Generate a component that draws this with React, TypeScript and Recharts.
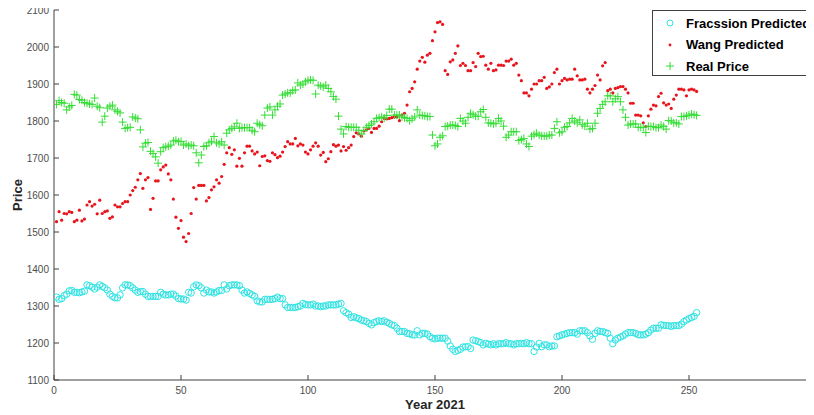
import {
  ScatterChart,
  Scatter,
  XAxis,
  YAxis,
  Legend,
  Label,
} from "recharts";

// x positions are trading days 1..253
const realPrice = [
  1845, 1855, 1850, 1848, 1830, 1838, 1842, 1872, 1870, 1858,
  1856, 1850, 1848, 1846, 1845, 1862, 1840, 1836, 1797, 1813,
  1835, 1840, 1843, 1830, 1826, 1822, 1797, 1780, 1782, 1783,
  1811, 1808, 1806, 1776, 1730, 1740, 1742, 1718, 1712, 1703,
  1686, 1717, 1728, 1730, 1732, 1735, 1746, 1748, 1744, 1745,
  1735, 1738, 1733, 1735, 1733, 1714, 1687, 1708, 1731, 1733,
  1741, 1745, 1758, 1741, 1738, 1744, 1735, 1767, 1776, 1780,
  1784, 1794, 1780, 1782, 1782, 1782, 1782, 1775, 1771, 1794,
  1790, 1787, 1816, 1835, 1838, 1816, 1830, 1840, 1846, 1870,
  1873, 1876, 1876, 1882, 1884, 1903, 1897, 1900, 1906, 1910,
  1911, 1910, 1873, 1897, 1895, 1892, 1897, 1888, 1879, 1866,
  1859, 1813, 1778, 1765, 1785, 1783, 1783, 1783, 1783, 1775,
  1765, 1774, 1783, 1788, 1792, 1798, 1807, 1809, 1811, 1808,
  1815, 1832, 1832, 1816, 1816, 1816, 1811, 1809, 1807, 1801,
  1806, 1811, 1830, 1816, 1815, 1814, 1812, 1812, 1762, 1733,
  1738, 1756, 1760, 1785, 1786, 1789, 1789, 1788, 1785, 1807,
  1800, 1794, 1810, 1821, 1817, 1813, 1813, 1825, 1831, 1810,
  1795, 1794, 1792, 1794, 1807, 1800, 1786, 1756, 1762, 1771,
  1771, 1771, 1747, 1750, 1753, 1738, 1731, 1759, 1763, 1767,
  1762, 1760, 1759, 1759, 1762, 1762, 1780, 1798, 1768, 1771,
  1783, 1785, 1795, 1807, 1800, 1795, 1803, 1790, 1786, 1794,
  1778, 1780, 1794, 1821, 1834, 1845, 1852, 1868, 1868, 1852,
  1860, 1866, 1852, 1830, 1810, 1789, 1792, 1792, 1792, 1783,
  1783, 1782, 1769, 1786, 1785, 1785, 1782, 1782, 1789, 1785,
  1778, 1801, 1800, 1795, 1795, 1792, 1812, 1812, 1814, 1816,
  1819, 1817, 1815,
];

const wangPredicted = [
  1528, 1555, 1532, 1550, 1549, 1555, 1553, 1528, 1532, 1559,
  1530, 1535, 1573, 1582, 1570, 1575, 1549, 1586, 1550, 1555,
  1557, 1537, 1541, 1573, 1568, 1568, 1577, 1582, 1582, 1600,
  1612, 1621, 1641, 1658, 1618, 1641, 1647, 1561, 1591, 1638,
  1638, 1668, 1676, 1681, 1657, 1641, 1589, 1540, 1510, 1531,
  1486, 1474, 1496, 1550, 1620, 1589, 1626, 1626, 1626, 1584,
  1593, 1614, 1622, 1641, 1632, 1650, 1683, 1714, 1728, 1710,
  1722, 1678, 1699, 1678, 1714, 1732, 1732, 1719, 1711, 1716,
  1679, 1704, 1706, 1693, 1691, 1714, 1709, 1701, 1705, 1716,
  1731, 1744, 1738, 1738, 1753, 1733, 1738, 1735, 1716, 1711,
  1722, 1732, 1741, 1732, 1708, 1715, 1690, 1698, 1717, 1736,
  1732, 1735, 1719, 1731, 1721, 1728, 1735, 1758, 1768, 1765,
  1759, 1773, 1776, 1780, 1769, 1780, 1780, 1786, 1798, 1807,
  1806, 1807, 1809, 1811, 1811, 1801, 1816, 1821, 1843, 1879,
  1888, 1906, 1940, 1962, 1972, 1959, 1978, 1983, 2017, 2041,
  2066, 2068, 2061, 1936, 1926, 1960, 1965, 1983, 2003, 1950,
  1956, 1950, 1936, 1936, 1958, 1947, 1983, 1974, 1975, 1951,
  1940, 1956, 1936, 1938, 1951, 1951, 1950, 1962, 1962, 1967,
  1951, 1956, 1924, 1909, 1876, 1876, 1868, 1886, 1900, 1900,
  1909, 1909, 1918, 1888, 1892, 1900, 1931, 1940, 1900, 1909,
  1915, 1911, 1913, 1913, 1940, 1922, 1911, 1911, 1913, 1886,
  1876, 1886, 1896, 1924, 1911, 1949, 1958, 1882, 1886, 1876,
  1888, 1890, 1893, 1893, 1886, 1876, 1848, 1848, 1816, 1816,
  1814, 1795, 1785, 1814, 1832, 1843, 1841, 1866, 1875, 1849,
  1843, 1846, 1834, 1859, 1870, 1886, 1886, 1884, 1868, 1884,
  1886, 1884, 1880,
];

const fracssionPredicted = [
  1324, 1318, 1320, 1328, 1332, 1341, 1342, 1337, 1337, 1336,
  1338, 1340, 1357, 1355, 1351, 1346, 1351, 1357, 1353, 1349,
  1343, 1332, 1326, 1322, 1322, 1330, 1349, 1357, 1357, 1355,
  1349, 1343, 1337, 1339, 1339, 1332, 1326, 1326, 1326, 1326,
  1326, 1337, 1332, 1330, 1330, 1332, 1332, 1327, 1320, 1319,
  1319, 1316, 1337, 1335, 1352, 1357, 1355, 1349, 1335, 1343,
  1338, 1338, 1335, 1338, 1342, 1342, 1357, 1346, 1355, 1357,
  1357, 1357, 1355, 1343, 1335, 1338, 1334, 1330, 1326, 1314,
  1311, 1311, 1318, 1318, 1318, 1318, 1320, 1324, 1320, 1320,
  1303, 1296, 1296, 1296, 1296, 1298, 1300, 1307, 1304, 1303,
  1303, 1305, 1300, 1300, 1298, 1300, 1300, 1303, 1303, 1303,
  1303, 1305, 1307, 1287, 1282, 1278, 1269, 1271, 1268, 1266,
  1262, 1260, 1258, 1253, 1249, 1255, 1258, 1260, 1258, 1260,
  1256, 1253, 1249, 1247, 1240, 1231, 1231, 1231, 1226, 1225,
  1222, 1222, 1233, 1222, 1226, 1226, 1224, 1217, 1213, 1211,
  1213, 1213, 1213, 1213, 1205, 1192, 1183, 1177, 1180, 1183,
  1189, 1190, 1190, 1185, 1208, 1206, 1204, 1201, 1195, 1199,
  1197, 1195, 1198, 1195, 1198, 1198, 1198, 1201, 1198, 1198,
  1195, 1198, 1198, 1199, 1198, 1201, 1198, 1198, 1177, 1189,
  1199, 1190, 1195, 1195, 1190, 1192, 1192, 1217, 1219, 1222,
  1224, 1226, 1228, 1228, 1228, 1224, 1233, 1233, 1233, 1228,
  1219, 1210, 1226, 1233, 1231, 1231, 1228, 1226, 1213, 1198,
  1208, 1213, 1216, 1219, 1224, 1228, 1228, 1228, 1226, 1222,
  1222, 1222, 1224, 1228, 1235, 1240, 1240, 1240, 1249, 1248,
  1247, 1247, 1245, 1247, 1247, 1247, 1251, 1258, 1262, 1266,
  1269, 1272, 1282,
];

const xTicks = [0, 50, 100, 150, 200, 250, 300];
const yTicks = [1100, 1200, 1300, 1400, 1500, 1600, 1700, 1800, 1900, 2000, 2100];

const toPoints = (vals: number[]) => vals.map((y, i) => ({ x: i + 1, y }));

const CYAN = "#2fe3e3";
const RED = "#e8141b";
const GREEN = "#33dd33";
const AXIS = "#404040";

const Ring = (p: any) => (
  <circle cx={p.cx} cy={p.cy} r={3.2} fill="none" stroke={CYAN} strokeWidth={1} />
);
const Dot = (p: any) => <circle cx={p.cx} cy={p.cy} r={1.6} fill={RED} />;
const Plus = (p: any) => (
  <path
    d={`M${p.cx - 4},${p.cy}H${p.cx + 4}M${p.cx},${p.cy - 4}V${p.cy + 4}`}
    stroke={GREEN}
    strokeWidth={1}
    fill="none"
  />
);

const tickStyle = { fontSize: 10, fill: "#4d4d4d", fontFamily: "Liberation Sans, Arial, sans-serif" };

const LegendBox = () => (
  <div
    style={{
      width: 200,
      height: 64,
      background: "#fff",
      border: `1px solid ${AXIS}`,
      fontFamily: "Liberation Sans, Arial, sans-serif",
      fontWeight: "bold",
      fontSize: 13,
      color: "#000",
      position: "relative",
    }}
  >
    {[
      { name: "Fracssion Predicted", mark: "ring" },
      { name: "Wang Predicted", mark: "dot" },
      { name: "Real Price", mark: "plus" },
    ].map((e, i) => (
      <div
        key={e.name}
        style={{ position: "absolute", left: 0, top: 4 + i * 21.5, height: 16, display: "flex", alignItems: "center" }}
      >
        <svg width={30} height={16}>
          {e.mark === "ring" && <circle cx={17} cy={8} r={3} fill="none" stroke={CYAN} />}
          {e.mark === "dot" && <circle cx={17} cy={8} r={1.4} fill={RED} />}
          {e.mark === "plus" && <path d="M13,8H21M17,4V12" stroke={GREEN} />}
        </svg>
        <span style={{ marginLeft: 3, whiteSpace: "nowrap" }}>{e.name}</span>
      </div>
    ))}
  </div>
);

export default function App() {
  return (
    <div
      style={{
        position: "relative",
        width: 814,
        height: 415,
        overflow: "hidden",
        margin: "-8px -8px 0 -8px",
        background: "#fff",
      }}
    >
      <ScatterChart width={840} height={415} margin={{ top: 10, right: 24, left: 0, bottom: 0 }}>
        <XAxis
          type="number"
          dataKey="x"
          domain={[0, 300]}
          ticks={xTicks}
          interval={0}
          height={35}
          tickSize={-5}
          tickMargin={12}
          stroke={AXIS}
          tick={tickStyle}
          allowDataOverflow
        >
          <Label
            content={() => (
              <text
                x={435}
                y={409}
                textAnchor="middle"
                style={{ fontFamily: "Liberation Sans, Arial, sans-serif", fontWeight: "bold", fontSize: 13, fill: "#262626" }}
              >
                Year 2021
              </text>
            )}
          />
        </XAxis>
        <XAxis
          xAxisId="top"
          orientation="top"
          type="number"
          domain={[0, 300]}
          ticks={xTicks}
          interval={0}
          height={0}
          tickSize={-5}
          tickFormatter={() => ""}
          stroke={AXIS}
          allowDataOverflow
        />
        <YAxis
          type="number"
          dataKey="y"
          domain={[1100, 2100]}
          ticks={yTicks}
          interval={0}
          width={54}
          tickSize={-5}
          tickMargin={10}
          stroke={AXIS}
          tick={tickStyle}
          allowDataOverflow
        >
          <Label
            content={() => (
              <text
                x={22}
                y={195}
                transform="rotate(-90 22 195)"
                textAnchor="middle"
                style={{ fontFamily: "Liberation Sans, Arial, sans-serif", fontWeight: "bold", fontSize: 13, fill: "#262626" }}
              >
                Price
              </text>
            )}
          />
        </YAxis>
        <YAxis
          yAxisId="right"
          orientation="right"
          type="number"
          domain={[1100, 2100]}
          ticks={yTicks}
          interval={0}
          width={0}
          tickSize={-5}
          tickFormatter={() => ""}
          stroke={AXIS}
          allowDataOverflow
        />
        <Legend
          layout="vertical"
          align="center"
          verticalAlign="middle"
          wrapperStyle={{ position: "absolute", left: 652, top: 10, width: "auto" }}
          content={() => <LegendBox />}
        />
        <Scatter name="Fracssion Predicted" data={toPoints(fracssionPredicted)} shape={Ring} isAnimationActive={false} />
        <Scatter name="Wang Predicted" data={toPoints(wangPredicted)} shape={Dot} isAnimationActive={false} />
        <Scatter name="Real Price" data={toPoints(realPrice)} shape={Plus} isAnimationActive={false} />
      </ScatterChart>
    </div>
  );
}
